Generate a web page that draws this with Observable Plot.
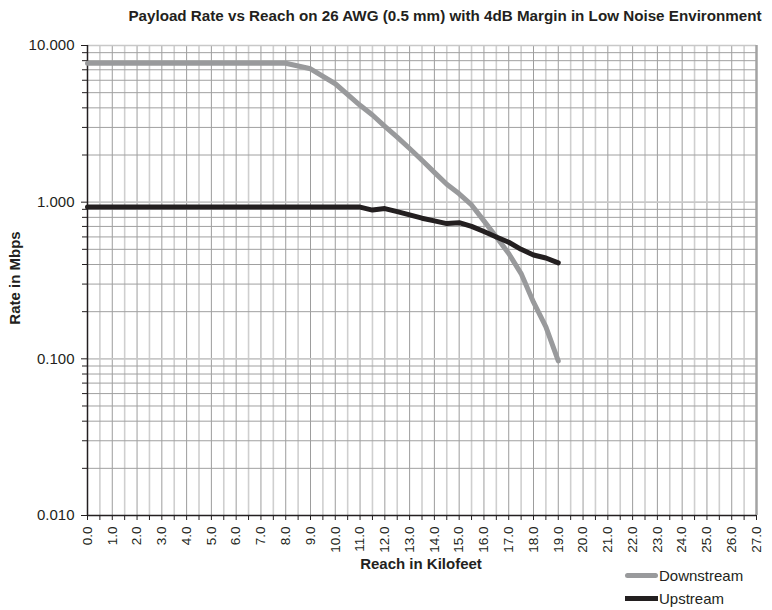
<!DOCTYPE html>
<html>
<head>
<meta charset="utf-8">
<script src="https://cdn.jsdelivr.net/npm/d3@7"></script>
<script src="https://cdn.jsdelivr.net/npm/@observablehq/plot@0.6"></script>
<style>
  html, body { margin: 0; padding: 0; background: #fff; }
  #wrap { position: relative; width: 772px; height: 610px; font-family: "Liberation Sans", Arial, sans-serif; color: #231f20; }
  #title { position: absolute; left: 445px; top: 7px; transform: translateX(-50%); white-space: nowrap; font-weight: bold; font-size: 15.2px; }
  #xtitle { position: absolute; left: 86px; width: 670px; top: 555px; text-align: center; font-weight: bold; font-size: 15px; }
  #ytitle { position: absolute; left: 14px; top: 278px; transform: translate(-50%, -50%) rotate(-90deg); font-weight: bold; font-size: 15px; white-space: nowrap; }
  .leg { position: absolute; left: 625px; font-size: 15px; display: flex; align-items: center; }
  .leg span.sw { display: inline-block; width: 33px; height: 5px; margin-right: 1px; }
</style>
</head>
<body>
<div id="wrap">
  <div id="chart"></div>
  <div id="title">Payload Rate vs Reach on 26 AWG (0.5 mm) with 4dB Margin in Low Noise Environment</div>
  <div id="ytitle">Rate in Mbps</div>
  <div id="xtitle">Reach in Kilofeet</div>
  <div class="leg" style="top:567px"><span class="sw" style="background:#999a9c;border-radius:3px"></span>Downstream</div>
  <div class="leg" style="top:590px"><span class="sw" style="background:#231f20"></span>Upstream</div>
</div>
<script>
const reach = [0,1,2,3,4,5,6,7,8,9,10,11,11.5,12,12.5,13,13.5,14,14.5,15,15.5,16,16.5,17,17.5,18,18.5,19];
const downstream = [7.7,7.7,7.7,7.7,7.7,7.7,7.7,7.7,7.7,7.1,5.7,4.15,3.6,3.05,2.6,2.2,1.85,1.55,1.3,1.13,0.96,0.76,0.6,0.47,0.35,0.23,0.16,0.097];
const upstream = [0.93,0.93,0.93,0.93,0.93,0.93,0.93,0.93,0.93,0.93,0.93,0.93,0.89,0.91,0.87,0.83,0.79,0.76,0.73,0.74,0.70,0.65,0.60,0.555,0.50,0.46,0.44,0.41];
const yMajor = [0.01, 0.1, 1, 10];
const yMinor = [2,3,4,5,6,7,8,9].flatMap(m => [0.01, 0.1, 1].map(d => +(m * d).toPrecision(3)));
const xInt = d3.range(0, 28, 1);
const xHalf = d3.range(0.5, 27, 1);

const rows = reach.flatMap((r, i) => [
  {reach: r, rate: downstream[i], series: "Downstream"},
  {reach: r, rate: upstream[i], series: "Upstream"}
]);

const blank = () => "";

const plot = Plot.plot({
  width: 772,
  height: 610,
  marginLeft: 87,
  marginRight: 16,
  marginTop: 45,
  marginBottom: 95,
  style: {fontFamily: "'Liberation Sans', Arial, sans-serif", color: "#231f20", background: "transparent"},
  x: {domain: [0, 27]},
  y: {type: "log", domain: [0.01, 10]},
  marks: [
    Plot.gridX(xHalf, {stroke: "#cfcfcf", strokeOpacity: 1, strokeWidth: 1.6}),
    Plot.gridX(xInt.filter(d => d > 0 && d < 27), {stroke: "#9d9d9d", strokeOpacity: 1, strokeWidth: 1}),
    Plot.gridY(yMinor, {stroke: "#a0a0a0", strokeOpacity: 1, strokeWidth: 1}),
    Plot.gridY(yMajor.slice(1), {stroke: "#c8c8c8", strokeOpacity: 1, strokeWidth: 1.6}),
    Plot.ruleX([27], {stroke: "#a3a3a3", strokeWidth: 2.5}),
    Plot.axisY(yMinor, {tickSize: 5, tickFormat: blank, label: null}),
    Plot.axisY(yMajor, {tickSize: 6, tickPadding: 7, tickFormat: d3.format(".3f"), fontSize: 15, label: null}),
    Plot.axisX(xHalf, {tickSize: 5, tickFormat: blank, label: null}),
    Plot.axisX(xInt, {tickSize: 5, tickPadding: 6, tickRotate: -90, tickFormat: d3.format(".1f"), fontSize: 13.5, label: null}),
    Plot.ruleX([0], {stroke: "#231f20", strokeWidth: 1.5}),
    Plot.ruleY([0.01], {stroke: "#231f20", strokeWidth: 1.5}),
    Plot.line(rows, {x: "reach", y: "rate", z: "series",
      stroke: d => d.series === "Downstream" ? "#999a9c" : "#231f20",
      strokeWidth: 5, strokeLinejoin: "round", strokeLinecap: "round"})
  ]
});
document.getElementById("chart").appendChild(plot);
</script>
</body>
</html>
